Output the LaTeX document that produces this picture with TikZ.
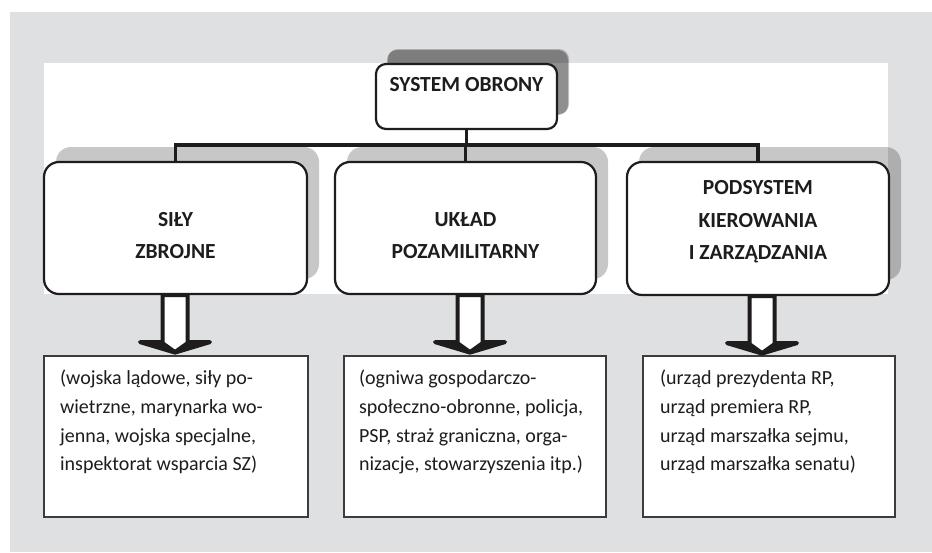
\documentclass[tikz,border=0pt]{standalone}
\usepackage{fontspec}
\setmainfont{Carlito}
\usetikzlibrary{shadows,calc}
\definecolor{bggray}{RGB}{223,224,226}
\definecolor{ink}{RGB}{30,28,29}
\definecolor{boxline}{RGB}{60,60,62}
\newcommand{\hollowarrow}[2]{%
  \begin{scope}[shift={(#2,0 |- #1.south)}]
    \draw[barrow] (-12.5,0) -- (-12.5,47) -- (-35,47) -- (0,57.5) -- (35,47) -- (12.5,47) -- (12.5,0) -- cycle;
    \fill[ink] (-35,47) -- (-10.5,47) -- (0,54.5) -- (10.5,47) -- (35,47) -- (0,57.5) -- cycle;
  \end{scope}}
\begin{document}
\begin{tikzpicture}[x=1pt,y=-1pt,
  mainbox/.style={draw=ink, line width=2.2pt, fill=white, rounded corners=15pt, inner sep=0pt,
    general shadow={shadow xshift=12pt, shadow yshift=15pt, fill=black, opacity=0.22}},
  headtext/.style={text=ink, align=center, inner sep=0pt, font=\bfseries\fontsize{21.5}{32.5}\selectfont},
  listbox/.style={draw=boxline, line width=2.2pt, fill=white, inner sep=0pt},
  listtext/.style={text=ink, align=left, inner sep=0pt, anchor=north west, font=\fontsize{20}{28.7}\selectfont},
  conn/.style={draw=ink, line width=3.6pt},
  barrow/.style={draw=ink, line width=4pt, fill=white, line join=round}
]
\useasboundingbox (0,0) rectangle (932,552);
\fill[bggray] (10,12) rectangle (932,552);
\fill[white] (44,63) rectangle (888,294);

% top box
\node[mainbox, rounded corners=10pt, minimum width=181pt, minimum height=65pt,
  general shadow={shadow xshift=11pt, shadow yshift=14pt, fill=black, opacity=0.28}] (top) at (466.5,96.5) {};
\node[headtext] (toplbl) at (466.5,85) {SYSTEM OBRONY};

% three main boxes
\node[mainbox, minimum width=263pt, minimum height=132pt] (sz) at (175.5,228) {};
\node[mainbox, minimum width=261pt, minimum height=132pt] (up) at (465.5,228) {};
\node[mainbox, minimum width=262pt, minimum height=133pt] (pk) at (758,228.5) {};

\node[headtext] (szlbl) at (175.5,235.5) {SIŁY\\ZBROJNE};
\node[headtext] (uplbl) at (465.5,235.5) {UKŁAD\\POZAMILITARNY};
\node[headtext] (pklbl) at (758,222) {PODSYSTEM\\KIEROWANIA\\I ZARZĄDZANIA};

% connectors
\coordinate (bar) at (0,145);
\draw[conn] (sz.north) -- (sz.north |- bar) -- (pk.north |- bar) -- (pk.north);
\draw[conn] (top.south) -- (top.south |- bar);
\draw[conn] (up.north |- bar) -- (up.north);

% bottom boxes
\node[listbox, minimum width=264pt, minimum height=161pt] (szb) at (176,436.5) {};
\node[listbox, minimum width=262pt, minimum height=161pt] (upb) at (475,436.5) {};
\node[listbox, minimum width=252pt, minimum height=161pt] (pkb) at (769,436.5) {};

\node[listtext] (sztext) at ($(szb.north west)+(17,15)$) {(wojska lądowe, siły po-\\wietrzne, marynarka wo-\\jenna, wojska specjalne,\\inspektorat wsparcia SZ)};
\node[listtext] (uptext) at ($(upb.north west)+(16,15)$) {(ogniwa gospodarczo-\\społeczno-obronne, policja,\\PSP, straż graniczna, orga-\\nizacje, stowarzyszenia itp.)};
\node[listtext] (pktext) at ($(pkb.north west)+(18,15)$) {(urząd prezydenta RP,\\urząd premiera RP,\\urząd marszałka sejmu,\\urząd marszałka senatu)};

% block arrows
\hollowarrow{sz}{175}
\hollowarrow{up}{470}
\hollowarrow{pk}{762}
\end{tikzpicture}
\end{document}
